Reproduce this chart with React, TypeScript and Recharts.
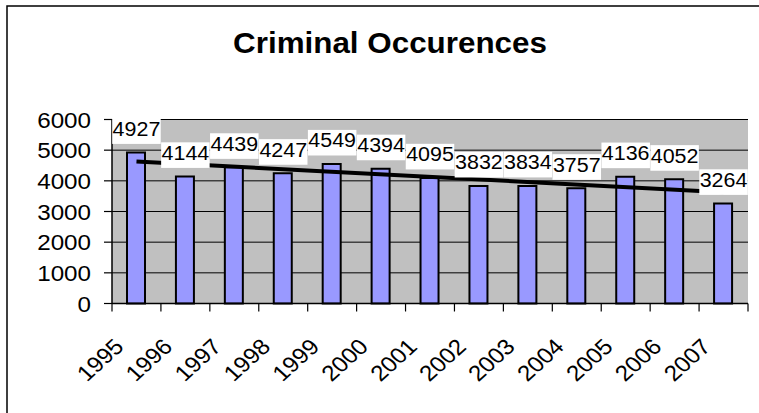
import { ComposedChart, Bar, Line, XAxis, YAxis, CartesianGrid, LabelList } from 'recharts'

const years = ['1995', '1996', '1997', '1998', '1999', '2000', '2001', '2002', '2003', '2004', '2005', '2006', '2007']
const occurrences = [4927, 4144, 4439, 4247, 4549, 4394, 4095, 3832, 3834, 3757, 4136, 4052, 3264]
// linear trendline: only its two ends
const trendline = [4627, null, null, null, null, null, null, null, null, null, null, null, 3630]
const countTicks = [0, 1000, 2000, 3000, 4000, 5000, 6000]

const data = years.map((year, i) => ({ year, count: occurrences[i], trend: trendline[i] }))

const W = 759
const H = 413
const margin = { top: 119.5, right: 11, bottom: 19.5, left: 12 }
const Y_AXIS_W = 100
const X_AXIS_H = 90
const BAND = (W - margin.left - Y_AXIS_W - margin.right) / years.length
// the picture is a bit wider than tall, text included
const STRETCH = 1.1
const FONT = '"Liberation Sans", Arial, Helvetica, sans-serif'

function YearTick({ x, y, payload, index }: any) {
  const half = BAND / 2
  return (
    <g>
      <line x1={x - half} x2={x - half} y1={y} y2={y + 8} stroke="#000" strokeWidth={1.2} />
      {index === years.length - 1 && (
        <line x1={x + half} x2={x + half} y1={y} y2={y + 8} stroke="#000" strokeWidth={1.2} />
      )}
      <text
        transform={`translate(${x - 11.5},${y + 44.5}) scale(${STRETCH},1) rotate(-45)`}
        textAnchor="end"
        fontSize={22}
        fontFamily={FONT}
        fill="#000"
      >
        {payload.value}
      </text>
    </g>
  )
}

function CountTick({ x, y, payload }: any) {
  return (
    <text
      transform={`translate(${x},${y}) scale(${STRETCH},1)`}
      textAnchor="end"
      dy={8}
      fontSize={22}
      fontFamily={FONT}
      fill="#000"
    >
      {payload.value}
    </text>
  )
}

function ValueLabel(props: any) {
  const vb = props.viewBox || {}
  const x = props.x ?? vb.x
  const y = props.y ?? vb.y
  if (x == null || y == null) return null
  const boxW = 48.5
  const boxH = 25.6
  const bottom = y - 8.5
  return (
    <g>
      <rect x={x - boxW / 2} y={bottom - boxH} width={boxW} height={boxH} fill="#fff" />
      <text
        transform={`translate(${x},${bottom - 8}) scale(${STRETCH},1)`}
        textAnchor="middle"
        fontSize={19.5}
        fontFamily={FONT}
        fill="#000"
      >
        {props.value}
      </text>
    </g>
  )
}

export default function App() {
  return (
    <div style={{ position: 'absolute', left: 0, top: 0, width: W, height: H, overflow: 'hidden', background: '#fff' }}>
      <svg width={W} height={H} style={{ position: 'absolute', left: 0, top: 0 }}>
        <rect x={7} y={6} width={800} height={500} fill="none" stroke="#000" strokeWidth={1.5} />
        <text
          transform={`translate(390,53.3) scale(1.09,1)`}
          textAnchor="middle"
          fontSize={28.8}
          fontWeight="bold"
          fontFamily={FONT}
          fill="#000"
        >
          Criminal Occurences
        </text>
      </svg>
      <div style={{ position: 'absolute', left: 0, top: 0 }}>
        <ComposedChart width={W} height={H} data={data} margin={margin}>
          <CartesianGrid vertical={false} fill="#C0C0C0" fillOpacity={1} stroke="#000" strokeWidth={1} />
          <XAxis
            dataKey="year"
            height={X_AXIS_H}
            interval={0}
            tickSize={0}
            tickMargin={0}
            tickLine={false}
            axisLine={{ stroke: '#000', strokeWidth: 1.5 }}
            tick={<YearTick />}
          />
          <XAxis
            xAxisId="frame"
            dataKey="year"
            orientation="top"
            height={0}
            tick={false}
            tickLine={false}
            axisLine={{ stroke: '#808080', strokeWidth: 2 }}
          />
          <YAxis
            domain={[0, 6000]}
            ticks={countTicks}
            width={Y_AXIS_W}
            tickSize={8}
            tickMargin={13}
            tickLine={{ stroke: '#000', strokeWidth: 1.2 }}
            axisLine={{ stroke: '#000', strokeWidth: 1.5 }}
            tick={<CountTick />}
          />
          <YAxis
            yAxisId="frame"
            orientation="right"
            domain={[0, 6000]}
            width={0}
            tick={false}
            tickLine={false}
            axisLine={{ stroke: '#808080', strokeWidth: 2 }}
          />
          <Bar dataKey="count" fill="#9999FF" stroke="#000" strokeWidth={2} barSize={18} isAnimationActive={false} />
          <Line
            dataKey="trend"
            stroke="#000"
            strokeWidth={4}
            dot={false}
            activeDot={false}
            connectNulls
            isAnimationActive={false}
          />
          <Line dataKey="count" stroke="none" dot={false} activeDot={false} isAnimationActive={false}>
            <LabelList dataKey="count" content={ValueLabel} />
          </Line>
        </ComposedChart>
      </div>
    </div>
  )
}
